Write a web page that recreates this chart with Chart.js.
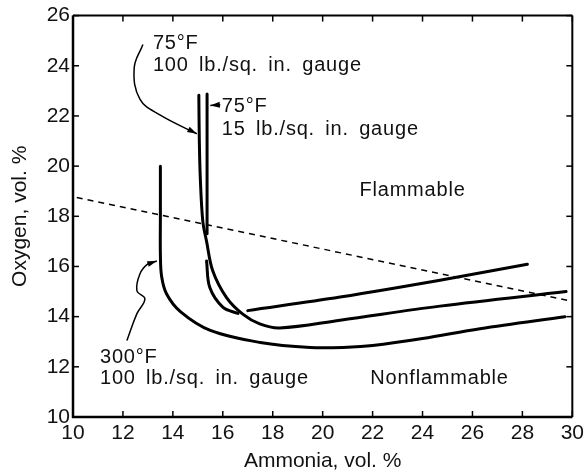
<!DOCTYPE html>
<html>
<head>
<meta charset="utf-8">
<script src="https://cdn.jsdelivr.net/npm/chart.js@4.4.1/dist/chart.umd.min.js"></script>
<style>
  html, body { margin: 0; padding: 0; background: #fff; }
</style>
</head>
<body>
<canvas id="chart" width="588" height="472"></canvas>
<script>
// axis ticks
const xTicks = [10, 12, 14, 16, 18, 20, 22, 24, 26, 28, 30];
const yTicks = [10, 12, 14, 16, 18, 20, 22, 24, 26];

// limit curves, [ammonia %, oxygen %]; a null oxygen value breaks the line
const hot100psig = [[13.5, 20], [13.5, 18], [13.5, 16.5], [13.55, 15.6], [13.75, 14.9], [14.3, 14.2], [15.5, 13.45],
  [17.5, 12.97], [19.5, 12.77], [21, 12.78], [22, 12.85], [24, 13.13], [26.3, 13.52], [29.7, 14.0]];
const room100psig = [[15.04, 22.83], [15.06, 21], [15.1, 19.5], [15.2, 17.8], [15.35, 17.0], [15.6, 15.82], [16.15, 14.76],
  [16.8, 14.1], [17.48, 13.71], [18.28, 13.55], [20.7, 13.86], [24.7, 14.42], [29.75, 15.0]];
const room15psig = [[15.37, 22.87], [15.37, 20], [15.37, 17.3], [15.36, null],
  [15.35, 16.22], [15.48, 15.16], [16.01, 14.37], [16.61, 14.13], [16.8, null],
  [17.0, 14.24], [20.7, 14.78], [24.7, 15.45], [28.2, 16.09]];
const boundary = [[10.15, 18.75], [29.9, 14.63]];

// leader arrows
const arrow100 = [[12.8, 24.85], [12.45, 23.9], [12.68, 22.67], [13.48, 22.04], [14.96, 21.29]];
const arrow15 = [[15.9, 22.45], [15.5, 22.42]];
const arrow300 = [[12.16, 13.05], [12.56, 14.12], [12.88, 14.71], [12.56, 15.03], [12.68, 15.7], [13.0, 16.1], [13.36, 16.22]];

const notes = [
  { text: "75°F", x: 13.2, y: 24.87, align: "left" },
  { text: "100 lb./sq. in. gauge", x: 13.2, y: 24.0, align: "left" },
  { text: "75°F", x: 15.96, y: 22.38, align: "left" },
  { text: "15 lb./sq. in. gauge", x: 15.96, y: 21.47, align: "left" },
  { text: "Flammable", x: 23.6, y: 19.03, align: "center" },
  { text: "300°F", x: 11.08, y: 12.39, align: "left" },
  { text: "100 lb./sq. in. gauge", x: 11.08, y: 11.54, align: "left" },
  { text: "Nonflammable", x: 24.68, y: 11.54, align: "center" },
];

const toPts = arr => arr.map(p => ({ x: p[0], y: p[1] }));

const curve = data => ({
  data: toPts(data), borderColor: "#000", borderWidth: 3, tension: 0.35,
  pointRadius: 0, borderCapStyle: "round", borderJoinStyle: "round",
});
const leader = data => ({
  data: toPts(data), borderColor: "#000", borderWidth: 1.5, tension: 0.4,
  pointRadius: 0, arrow: true,
});

const decor = {
  id: "decor",
  afterDatasetsDraw(chart) {
    const { ctx, chartArea: a, scales: { x, y } } = chart;
    ctx.save();
    ctx.fillStyle = "#000";
    ctx.strokeStyle = "#000";
    // arrow heads
    chart.data.datasets.forEach((ds, i) => {
      if (!ds.arrow) return;
      const pts = chart.getDatasetMeta(i).data;
      const p = pts[pts.length - 1], q = pts[pts.length - 2];
      const ang = Math.atan2(p.y - q.y, p.x - q.x);
      ctx.beginPath();
      ctx.moveTo(p.x, p.y);
      ctx.lineTo(p.x - 10 * Math.cos(ang - 0.3), p.y - 10 * Math.sin(ang - 0.3));
      ctx.lineTo(p.x - 10 * Math.cos(ang + 0.3), p.y - 10 * Math.sin(ang + 0.3));
      ctx.closePath();
      ctx.fill();
    });
    // frame
    const line = (x1, y1, x2, y2, w) => {
      ctx.lineWidth = w;
      ctx.beginPath();
      ctx.moveTo(x1, y1);
      ctx.lineTo(x2, y2);
      ctx.stroke();
    };
    line(a.left, a.top, a.left, a.bottom + 1, 2.5);
    line(a.left - 1, a.bottom, a.right, a.bottom, 2.5);
    line(a.left, a.top, a.right, a.top, 2);
    line(a.right, a.top, a.right, a.bottom, 2);
    // inside tick marks on all four sides
    xTicks.forEach(v => {
      const px = x.getPixelForValue(v);
      line(px, a.bottom, px, a.bottom - 6, 1.5);
      line(px, a.top, px, a.top + 6, 1.5);
    });
    yTicks.forEach(v => {
      const py = y.getPixelForValue(v);
      line(a.left, py, a.left + 6, py, 1.5);
      line(a.right, py, a.right - 6, py, 1.5);
    });
    // labels
    ctx.font = '20px "Liberation Sans"';
    ctx.textBaseline = "middle";
    ctx.fillStyle = "#111";
    ctx.letterSpacing = "0.8px";
    ctx.wordSpacing = "4px";
    notes.forEach(n => {
      ctx.textAlign = n.align;
      ctx.fillText(n.text, x.getPixelForValue(n.x), y.getPixelForValue(n.y));
    });
    ctx.restore();
  },
};

new Chart(document.getElementById("chart"), {
  type: "line",
  data: {
    datasets: [
      curve(hot100psig),
      curve(room100psig),
      curve(room15psig),
      { data: toPts(boundary), borderColor: "#000", borderWidth: 1.5, borderDash: [6, 5], pointRadius: 0 },
      leader(arrow100),
      leader(arrow15),
      leader(arrow300),
    ],
  },
  options: {
    responsive: false,
    animation: false,
    layout: { padding: { top: 13, right: 15, left: 0, bottom: 0 } },
    plugins: { legend: { display: false }, tooltip: { enabled: false } },
    scales: {
      x: {
        type: "linear", min: 10, max: 30,
        afterBuildTicks: s => { s.ticks = xTicks.map(v => ({ value: v })); },
        afterFit: s => { s.height = 55; },
        grid: { display: false, drawTicks: false }, border: { display: false },
        ticks: { color: "#111", padding: 4, font: { family: "Liberation Sans", size: 21 } },
        title: { display: true, text: "Ammonia, vol. %", color: "#111", padding: { top: 0, bottom: 0 },
          font: { family: "Liberation Sans", size: 21, lineHeight: 1 } },
      },
      y: {
        type: "linear", min: 10, max: 26,
        afterBuildTicks: s => { s.ticks = yTicks.map(v => ({ value: v })); },
        afterFit: s => { s.width = 73; },
        grid: { display: false, drawTicks: false }, border: { display: false },
        ticks: { color: "#111", padding: 3, font: { family: "Liberation Sans", size: 21 } },
        title: { display: true, text: "Oxygen, vol. %", color: "#111", padding: { top: 8, bottom: 8 },
          font: { family: "Liberation Sans", size: 21 } },
      },
    },
  },
  plugins: [decor],
});
</script>
</body>
</html>
